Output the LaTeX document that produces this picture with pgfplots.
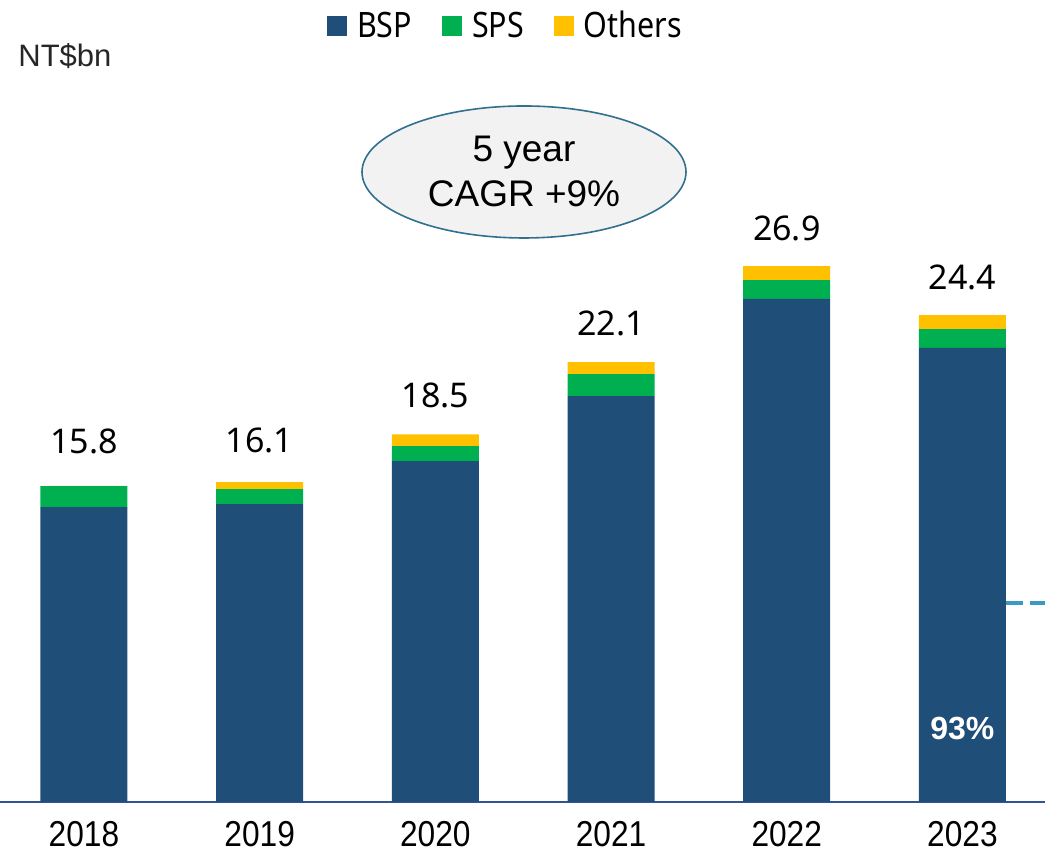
\documentclass[border=0pt]{standalone}
\usepackage{pgfplots}
\pgfplotsset{compat=1.18}
\usepackage{pgfplotstable}
\usepackage{fontspec}
\setmainfont{Liberation Sans}
\newfontfamily\valfont{Noto Sans}
\newfontfamily\narrowfont[FakeStretch=0.88]{Liberation Sans}
\newfontfamily\legfont[FakeStretch=0.87]{Noto Sans}
\definecolor{bsp}{HTML}{1F4E79}
\definecolor{sps}{HTML}{00B050}
\definecolor{oth}{HTML}{FFC000}
\definecolor{axisblue}{HTML}{2F5597}
\definecolor{ellborder}{HTML}{31708F}
\definecolor{dashblue}{HTML}{3B9AC4}
\pgfplotstableread{
x bsp sps oth tot
0 14.80 1.05 0.01 15.8
1 14.95 0.75 0.35 16.1
2 17.10 0.75 0.60 18.5
3 20.37 1.10 0.60 22.1
4 25.24 0.95 0.70 26.9
5 22.78 0.95 0.70 24.4
}\datatable
\begin{document}
\begin{tikzpicture}
\begin{axis}[
  at={(0pt,26pt)}, anchor=south west,
  scale only axis, width=522.5pt, height=401pt,
  xmin=-0.478, xmax=5.47, ymin=0, ymax=40.24,
  ybar stacked, bar width=43.5pt,
  axis y line=none,
  axis x line*=bottom,
  x axis line style={draw=axisblue, line width=1pt, -},
  xtick={0,1,2,3,4,5},
  xticklabels={2018,2019,2020,2021,2022,2023},
  major tick length=0pt,
  xticklabel style={font=\narrowfont\fontsize{18}{20}\selectfont, anchor=base, yshift=-22.5pt, inner sep=0pt},
  clip=false,
  legend style={at={(axis description cs:0.4847,0.9675)}, anchor=center, draw=none, fill=none,
    legend columns=-1, font=\legfont\fontsize{17.5}{20}\selectfont,
    /tikz/every odd column/.append style={column sep=3pt},
    /tikz/every even column/.append style={column sep=13pt}},
  legend image code/.code={\fill[#1] (0pt,-5pt) rectangle (10pt,5pt);},
]
\addplot[fill=bsp, draw=none] table[x=x, y=bsp] {\datatable};
\addlegendentry{BSP}
\addplot[fill=sps, draw=none] table[x=x, y=sps] {\datatable};
\addlegendentry{SPS}
\addplot[fill=oth, draw=none, nodes near coords, point meta=explicit symbolic,
  nodes near coords style={font=\valfont\fontsize{17}{20}\selectfont, text=black, anchor=south, inner sep=0pt, yshift=16pt}]
  table[x=x, y=oth, meta=tot] {\datatable};
\addlegendentry{Others}
\coordinate (p93) at (axis cs:5,3.7);
\draw[dashblue, line width=2pt, dash pattern=on 9pt off 3.5pt] (axis cs:5.245,9.98) -- (axis cs:5.47,9.98);
\node[anchor=west, font=\fontsize{15.5}{18}\selectfont, text=black!85, inner sep=0pt] at (axis description cs:0.0172,0.930) {NT\$bn};
\end{axis}
\node[font=\bfseries\fontsize{16}{18}\selectfont, text=white] at (p93) {93\%};
\draw[ellborder, fill=black!5, line width=0.8pt] (262pt,341pt) ellipse [x radius=81pt, y radius=33pt];
\node[align=center, font=\fontsize{18.5}{22.5}\selectfont] at (262pt,341.5pt) {5 year\\CAGR +9\%};
\pgfresetboundingbox
\path (0pt,0pt) rectangle (522.5pt,427pt);
\end{tikzpicture}
\end{document}
